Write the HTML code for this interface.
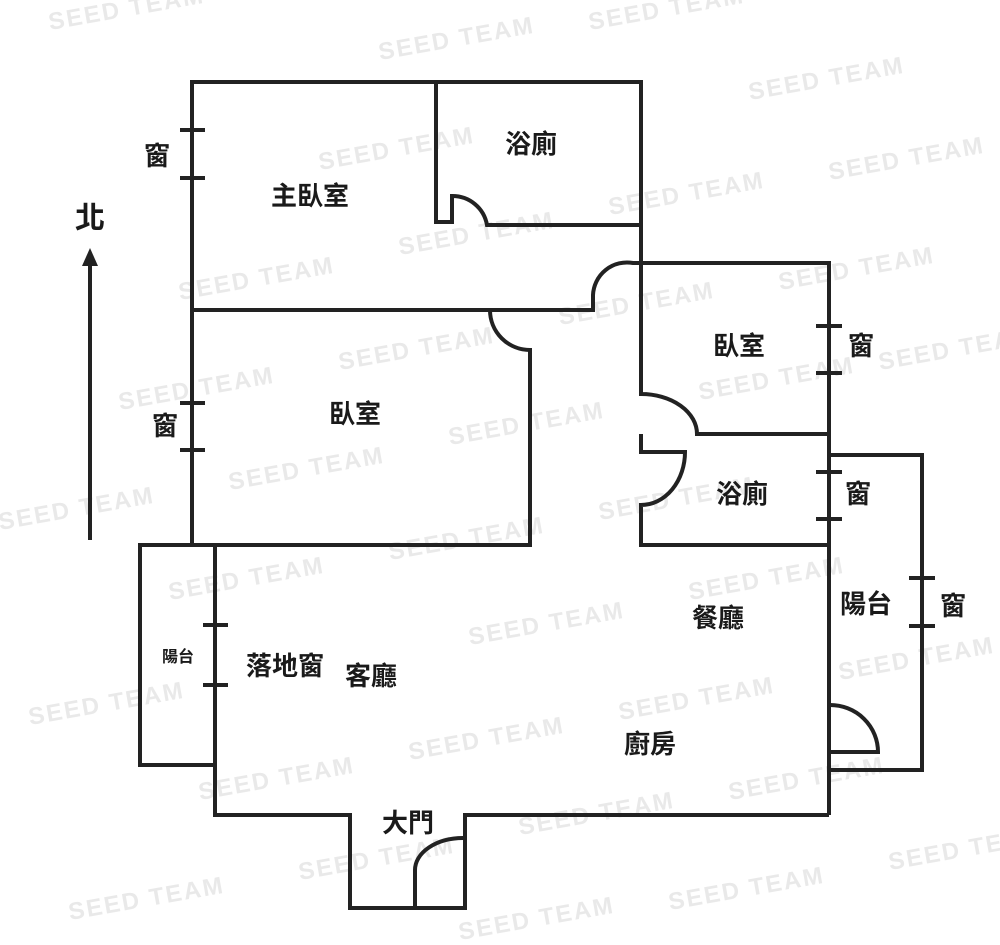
<!DOCTYPE html>
<html><head><meta charset="utf-8"><style>
html,body{margin:0;padding:0;background:#fff;}
svg{display:block}
.t{font-family:"Liberation Sans","Noto Sans CJK TC",sans-serif;font-weight:bold;fill:#1a1a1a;}
.w{font-family:"Liberation Sans",sans-serif;font-weight:bold;fill:#e9e9e9;font-size:24px;letter-spacing:2px}
</style></head><body>
<svg width="1000" height="945" viewBox="0 0 1000 945" xmlns="http://www.w3.org/2000/svg">
<g class="w">
<text x="50" y="30" transform="rotate(-10 50 30)">SEED TEAM</text>
<text x="380" y="60" transform="rotate(-10 380 60)">SEED TEAM</text>
<text x="590" y="30" transform="rotate(-10 590 30)">SEED TEAM</text>
<text x="750" y="100" transform="rotate(-10 750 100)">SEED TEAM</text>
<text x="320" y="170" transform="rotate(-10 320 170)">SEED TEAM</text>
<text x="830" y="180" transform="rotate(-10 830 180)">SEED TEAM</text>
<text x="610" y="215" transform="rotate(-10 610 215)">SEED TEAM</text>
<text x="400" y="255" transform="rotate(-10 400 255)">SEED TEAM</text>
<text x="180" y="300" transform="rotate(-10 180 300)">SEED TEAM</text>
<text x="780" y="290" transform="rotate(-10 780 290)">SEED TEAM</text>
<text x="560" y="325" transform="rotate(-10 560 325)">SEED TEAM</text>
<text x="340" y="370" transform="rotate(-10 340 370)">SEED TEAM</text>
<text x="120" y="410" transform="rotate(-10 120 410)">SEED TEAM</text>
<text x="450" y="445" transform="rotate(-10 450 445)">SEED TEAM</text>
<text x="700" y="400" transform="rotate(-10 700 400)">SEED TEAM</text>
<text x="880" y="370" transform="rotate(-10 880 370)">SEED TEAM</text>
<text x="230" y="490" transform="rotate(-10 230 490)">SEED TEAM</text>
<text x="0" y="530" transform="rotate(-10 0 530)">SEED TEAM</text>
<text x="600" y="520" transform="rotate(-10 600 520)">SEED TEAM</text>
<text x="390" y="560" transform="rotate(-10 390 560)">SEED TEAM</text>
<text x="170" y="600" transform="rotate(-10 170 600)">SEED TEAM</text>
<text x="470" y="645" transform="rotate(-10 470 645)">SEED TEAM</text>
<text x="690" y="600" transform="rotate(-10 690 600)">SEED TEAM</text>
<text x="840" y="680" transform="rotate(-10 840 680)">SEED TEAM</text>
<text x="30" y="725" transform="rotate(-10 30 725)">SEED TEAM</text>
<text x="620" y="720" transform="rotate(-10 620 720)">SEED TEAM</text>
<text x="410" y="760" transform="rotate(-10 410 760)">SEED TEAM</text>
<text x="200" y="800" transform="rotate(-10 200 800)">SEED TEAM</text>
<text x="730" y="800" transform="rotate(-10 730 800)">SEED TEAM</text>
<text x="520" y="835" transform="rotate(-10 520 835)">SEED TEAM</text>
<text x="300" y="880" transform="rotate(-10 300 880)">SEED TEAM</text>
<text x="890" y="870" transform="rotate(-10 890 870)">SEED TEAM</text>
<text x="70" y="920" transform="rotate(-10 70 920)">SEED TEAM</text>
<text x="670" y="910" transform="rotate(-10 670 910)">SEED TEAM</text>
<text x="460" y="940" transform="rotate(-10 460 940)">SEED TEAM</text>
</g>
<g fill="none" stroke="#222" stroke-width="4" stroke-linejoin="miter">
<polyline points="192,545 192,82 641,82 641,263"/>
<path d="M436,82 V222 H452 V196 A35,35 0 0 1 487,225 H641"/>
<path d="M192,310 H593 V295 A34,34 0 0 1 633,263 H829 V815"/>
<path d="M490,310 A40,40 0 0 0 530,350 V545 H192"/>
<path d="M641,263 V394 A56,40 0 0 1 697,434 H829"/>
<path d="M641,434 V452 H685 A44,53 0 0 1 641,505 V545 H829"/>
<path d="M829,455 H922 V770 H829"/>
<path d="M830,705 A48,47 0 0 1 878,752 H830"/>
<path d="M192,545 H140 V765 H215"/>
<path d="M215,545 V815 H350 V908 H465 V815 H829"/>
<path d="M415,908 V870 A48,32 0 0 1 463,838"/>
<path d="M180,130 H205 M180,178 H205 M180,403 H205 M180,450 H205"/>
<path d="M203,625 H228 M203,685 H228"/>
<path d="M816,326 H842 M816,373 H842 M816,472 H842 M816,519 H842"/>
<path d="M909,578 H935 M909,626 H935"/>
<path d="M90,540 V262"/>
</g>
<polygon points="90,248 82,266 98,266" fill="#222"/>
<g class="t" font-size="26" text-anchor="middle">
<text x="90" y="228" font-size="30">北</text>
<text x="157" y="165">窗</text>
<text x="310" y="205">主臥室</text>
<text x="531" y="153">浴廁</text>
<text x="739" y="355">臥室</text>
<text x="861" y="355">窗</text>
<text x="165" y="435">窗</text>
<text x="355" y="423">臥室</text>
<text x="742" y="503">浴廁</text>
<text x="858" y="503">窗</text>
<text x="866" y="613">陽台</text>
<text x="953" y="615">窗</text>
<text x="718" y="627">餐廳</text>
<text x="178" y="662" font-size="16">陽台</text>
<text x="285" y="675">落地窗</text>
<text x="371" y="685">客廳</text>
<text x="650" y="753">廚房</text>
<text x="408" y="832">大門</text>
</g>
</svg>
</body></html>
